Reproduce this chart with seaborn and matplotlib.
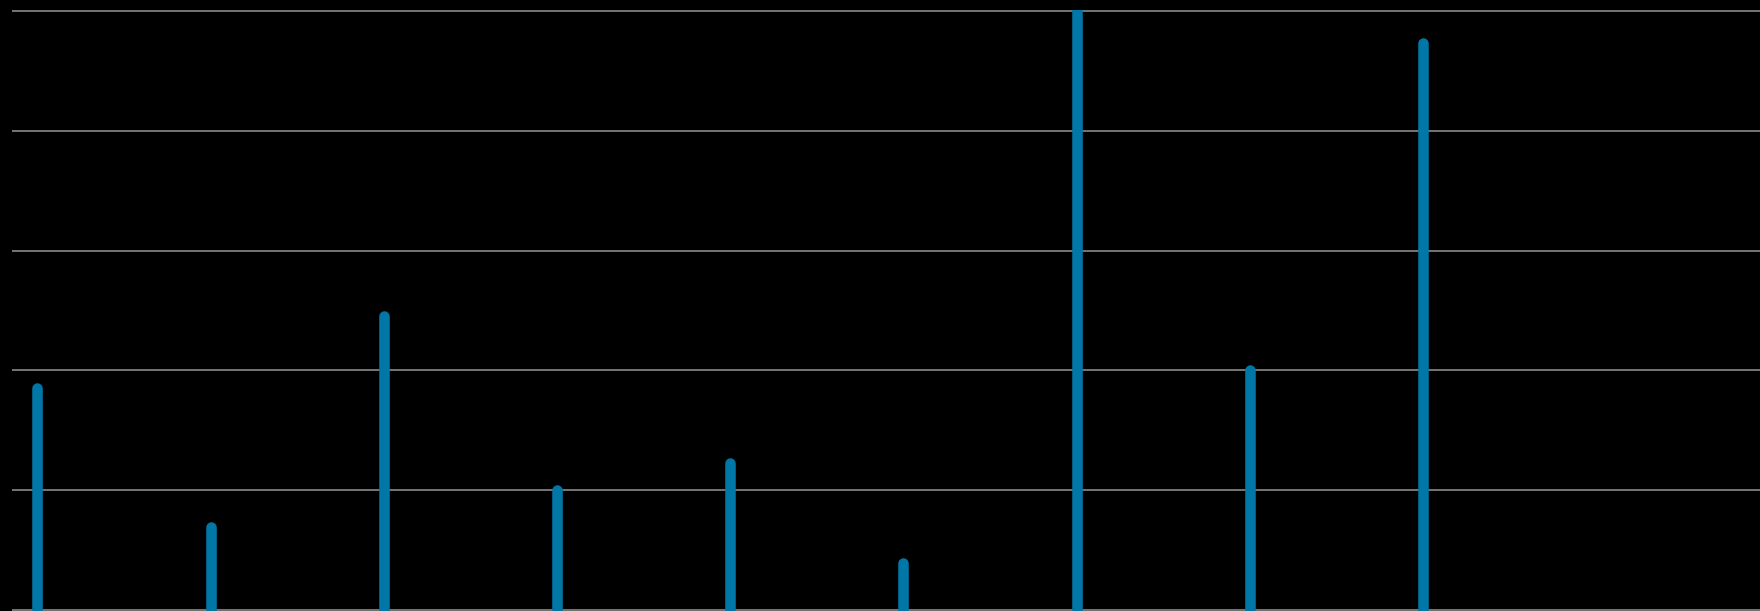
import matplotlib
matplotlib.use("Agg")
import matplotlib.pyplot as plt
import seaborn as sns
import numpy as np

# Data (grid step = 1 unit)
categories = list(range(9))
values = [1.85, 0.69, 2.455, 1.00, 1.23, 0.39, 5.40, 2.00, 4.73]
grid_ticks = [0, 1, 2, 3, 4, 5]

BAR_COLOR = "#0077a6"
GRID_COLOR = "#8a8a8a"

sns.set_theme(style="darkgrid", rc={
    "axes.facecolor": "black",
    "figure.facecolor": "black",
    "grid.color": GRID_COLOR,
    "grid.linewidth": 1.2,
})

W, H = 1760, 611
fig = plt.figure(figsize=(W / 100, H / 100), dpi=100)
# axes spans from the left grid start to the right edge
px_per_unit = 119.8
px_per_cat = 173.2
left_px, first_x = 12, 37.3
ax = fig.add_axes([left_px / W, 0, (W - left_px) / W, 1 - 10 / H])

ax.vlines(categories, 0, values, color=BAR_COLOR, linewidth=7.6,
          capstyle="round", zorder=3)

ax.set_ylim(-1 / px_per_unit, 600 / px_per_unit)
ax.set_xlim((left_px - first_x) / px_per_cat, (W - first_x) / px_per_cat)
ax.set_yticks(grid_ticks)
ax.set_xticks([])
ax.grid(axis="x", visible=False)
ax.tick_params(labelleft=False, labelbottom=False, length=0)
sns.despine(ax=ax, left=True, bottom=True, top=True, right=True)

fig.savefig("out.png", dpi=100, facecolor="black")
